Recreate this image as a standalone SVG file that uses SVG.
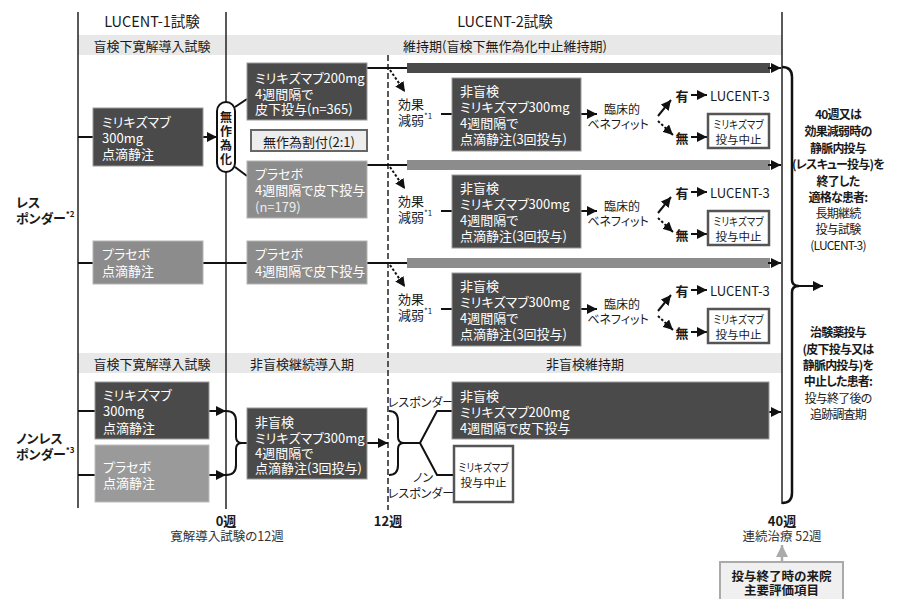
<svg xmlns="http://www.w3.org/2000/svg" width="898" height="599" viewBox="0 0 898 599">
<style>
text{font-family:"Noto Sans CJK JP","Noto Sans",sans-serif;font-size:13px;fill:#1a1a1a;dominant-baseline:central;font-feature-settings:"palt"}
.w{fill:#fff}
.b{font-weight:bold}
.c{text-anchor:middle}
.s{font-size:12px}
.r{font-size:12px;letter-spacing:-0.8px}
.sb{font-size:11.5px}
.dk{fill:#4a4a4a;stroke:#9a9a9a;stroke-width:1}
.gy{fill:#8c8c8c;stroke:#b4b4b4;stroke-width:1}
.gy2{fill:#9a9a9a;stroke:#bdbdbd;stroke-width:1}
.band{fill:#e8e8e8}
.vl{stroke:#222;stroke-width:1.5;fill:none}
.ln{stroke:#111;stroke-width:2;fill:none}
.dt{stroke:#111;stroke-width:2;fill:none;stroke-dasharray:2.5 2}
.ob{fill:#fff;stroke:#555;stroke-width:2.5}
.sup{font-size:8px}
</style>
<defs>
<marker id="ah" viewBox="0 0 10 10" refX="10" refY="5" markerWidth="10" markerHeight="10" markerUnits="userSpaceOnUse" orient="auto"><path d="M0,0 L10,5 L0,10 z" fill="#111"/></marker>
<marker id="ag" viewBox="0 0 10 10" refX="10" refY="5" markerWidth="12" markerHeight="12" markerUnits="userSpaceOnUse" orient="auto"><path d="M0,0 L10,5 L0,10 z" fill="#aaa"/></marker>
</defs>

<g id="frame">
<rect class="band" x="78" y="35" width="704" height="20"/>
<rect class="band" x="78" y="353" width="704" height="20"/>
<line class="vl" x1="78" y1="12" x2="78" y2="508"/>
<line class="vl" x1="226" y1="12" x2="226" y2="509"/>
<line class="vl" x1="782" y1="12" x2="782" y2="504"/>
<line x1="388" y1="55" x2="388" y2="510" stroke="#222" stroke-width="1.5" stroke-dasharray="6 3"/>
<text class="c" x="152" y="20" style="font-size:14.5px">LUCENT-1試験</text>
<text class="c" x="505" y="20" style="font-size:14.5px">LUCENT-2試験</text>
<text class="c" x="152" y="45">盲検下寛解導入試験</text>
<text class="c" x="505" y="45">維持期(盲検下無作為化中止維持期)</text>
<text class="c" x="152" y="363">盲検下寛解導入試験</text>
<text class="c" x="302" y="363">非盲検継続導入期</text>
<text class="c" x="585" y="363">非盲検維持期</text>
<text class="b" x="16" y="201">レス</text>
<text class="b" x="16" y="217">ポンダー<tspan class="sup" dy="-4">*2</tspan></text>
<text class="b" x="16" y="437">ノンレス</text>
<text class="b" x="16" y="453">ポンダー<tspan class="sup" dy="-4">*3</tspan></text>
<text class="c b" x="226" y="520">0週</text>
<text class="c" x="227" y="535" style="font-size:12.5px;fill:#333">寛解導入試験の12週</text>
<text class="c b" x="388" y="520">12週</text>
<text class="c b" x="782" y="520">40週</text>
<text class="c" x="782" y="535" style="font-size:12.5px;fill:#333">連続治療 52週</text>
</g>

<g id="connectors">
<line class="ln" x1="78" y1="137" x2="93" y2="137"/>
<line class="ln" x1="203" y1="137" x2="217" y2="137" marker-end="url(#ah)"/>
<line class="ln" x1="78" y1="263" x2="93" y2="263"/>
<line class="ln" x1="203" y1="263" x2="247" y2="263"/>
<line class="ln" x1="235" y1="107" x2="247" y2="99"/>
<line class="ln" x1="235" y1="167" x2="247" y2="176"/>
<line class="ln" x1="367" y1="68" x2="407" y2="68"/>
<line class="ln" x1="367" y1="165" x2="407" y2="165"/>
<line class="ln" x1="367" y1="263" x2="407" y2="263"/>
<rect x="407" y="63" width="363" height="10" fill="#4a4a4a"/>
<rect x="407" y="160" width="363" height="10" fill="#8c8c8c"/>
<rect x="407" y="258" width="363" height="10" fill="#8c8c8c"/>
<line class="ln" x1="768" y1="68" x2="781" y2="68" marker-end="url(#ah)"/>
<line class="ln" x1="768" y1="165" x2="781" y2="165" marker-end="url(#ah)"/>
<line class="ln" x1="768" y1="263" x2="781" y2="263" marker-end="url(#ah)"/>
<line class="ln" x1="769" y1="412" x2="781" y2="412" marker-end="url(#ah)"/>
<path class="dt" d="M390,70 L405,92" marker-end="url(#ah)"/>
<line class="ln" x1="441" y1="114" x2="452" y2="114"/>
<line class="ln" x1="581" y1="114" x2="597" y2="114" marker-end="url(#ah)"/>
<line class="ln" x1="658" y1="116" x2="671" y2="100" marker-end="url(#ah)"/>
<path class="dt" d="M658,121 L673,135" marker-end="url(#ah)"/>
<line class="ln" x1="691" y1="95" x2="707" y2="95" marker-end="url(#ah)"/>
<line class="ln" x1="691" y1="137" x2="707" y2="137" marker-end="url(#ah)"/>
<path class="dt" d="M390,167 L405,189" marker-end="url(#ah)"/>
<line class="ln" x1="441" y1="211" x2="452" y2="211"/>
<line class="ln" x1="581" y1="211" x2="597" y2="211" marker-end="url(#ah)"/>
<line class="ln" x1="658" y1="213" x2="671" y2="197" marker-end="url(#ah)"/>
<path class="dt" d="M658,218 L673,232" marker-end="url(#ah)"/>
<line class="ln" x1="691" y1="192" x2="707" y2="192" marker-end="url(#ah)"/>
<line class="ln" x1="691" y1="234" x2="707" y2="234" marker-end="url(#ah)"/>
<path class="dt" d="M390,265 L405,287" marker-end="url(#ah)"/>
<line class="ln" x1="441" y1="309" x2="452" y2="309"/>
<line class="ln" x1="581" y1="309" x2="597" y2="309" marker-end="url(#ah)"/>
<line class="ln" x1="658" y1="311" x2="671" y2="295" marker-end="url(#ah)"/>
<path class="dt" d="M658,316 L673,330" marker-end="url(#ah)"/>
<line class="ln" x1="691" y1="290" x2="707" y2="290" marker-end="url(#ah)"/>
<line class="ln" x1="691" y1="332" x2="707" y2="332" marker-end="url(#ah)"/>
<path d="M782,67 Q792,67 792,77 L792,280 Q792,286 799,286 Q792,286 792,292 L792,493 Q792,503 782,503" stroke="#111" stroke-width="2.5" fill="none"/>
<line class="ln" x1="798" y1="286" x2="823" y2="286" marker-end="url(#ah)"/>
<line class="ln" x1="78" y1="411" x2="95" y2="411"/>
<line class="ln" x1="78" y1="475" x2="95" y2="475"/>
<line class="ln" x1="209" y1="411" x2="226" y2="411" marker-end="url(#ah)"/>
<line class="ln" x1="209" y1="475" x2="226" y2="475" marker-end="url(#ah)"/>
<path class="ln" d="M226,411 Q236,411 236,421 L236,437 Q236,443 242,443 Q236,443 236,449 L236,465 Q236,475 226,475"/>
<line class="ln" x1="241" y1="443" x2="247" y2="443"/>
<line class="ln" x1="367" y1="443" x2="388" y2="443" marker-end="url(#ah)"/>
<path class="ln" d="M389,411 Q398,411 398,421 L398,437 Q398,443 404,443 Q398,443 398,449 L398,465 Q398,475 389,475"/>
<path class="ln" d="M403,443 L420,443 L437,411 L452,411 M420,443 L437,475 L454,475"/>
<line x1="782" y1="562" x2="782" y2="545" stroke="#aaa" stroke-width="2.5" marker-end="url(#ag)"/>
</g>

<g id="n_miri300_l1">
<rect class="dk" x="93" y="108" width="110" height="58"/>
<text class="w" x="102" y="121">ミリキズマブ</text>
<text class="w" x="102" y="137">300mg</text>
<text class="w" x="102" y="153">点滴静注</text>
</g>
<g id="n_placebo_l1">
<rect class="gy" x="93" y="241" width="110" height="43"/>
<text class="w" x="102" y="253">プラセボ</text>
<text class="w" x="102" y="270">点滴静注</text>
</g>
<g id="n_random">
<rect x="217" y="102" width="18" height="70" rx="9" fill="#fff" stroke="#111" stroke-width="2"/>
<text class="c b" x="226" y="116" style="font-size:12px">無</text>
<text class="c b" x="226" y="130" style="font-size:12px">作</text>
<text class="c b" x="226" y="144" style="font-size:12px">為</text>
<text class="c b" x="226" y="158" style="font-size:12px">化</text>
</g>
<g id="n_miri200">
<rect class="dk" x="247" y="63" width="120" height="57"/>
<text class="w" x="255" y="77">ミリキズマブ200mg</text>
<text class="w" x="255" y="93">4週間隔で</text>
<text class="w" x="255" y="108">皮下投与(n=365)</text>
</g>
<g id="n_alloc">
<rect x="251" y="130" width="116" height="21" fill="#ededed" stroke="#666" stroke-width="2"/>
<text class="c" x="309" y="141">無作為割付(2:1)</text>
</g>
<g id="n_placebo_sc1">
<rect class="gy" x="247" y="161" width="120" height="57"/>
<text class="w" x="255" y="173">プラセボ</text>
<text class="w" x="255" y="189">4週間隔で皮下投与</text>
<text class="w" x="255" y="206" style="fill:#eee">(n=179)</text>
</g>
<g id="n_placebo_sc2">
<rect class="gy" x="247" y="241" width="120" height="43"/>
<text class="w" x="255" y="253">プラセボ</text>
<text class="w" x="255" y="270">4週間隔で皮下投与</text>
</g>

<g id="n_row1">
<text x="398" y="103">効果</text>
<text x="398" y="119">減弱<tspan class="sup" dy="-4">*1</tspan></text>
<rect class="dk" x="452" y="78" width="129" height="73"/>
<text class="w" x="460" y="90">非盲検</text>
<text class="w" x="460" y="106">ミリキズマブ300mg</text>
<text class="w" x="460" y="122">4週間隔で</text>
<text class="w" x="460" y="138">点滴静注(3回投与)</text>
<text class="c s" x="622" y="108">臨床的</text>
<text class="c s" x="618" y="123">ベネフィット</text>
<text class="b c" x="682" y="95">有</text>
<text x="710" y="95">LUCENT-3</text>
<text class="b c" x="682" y="137">無</text>
<rect class="ob" x="708" y="114" width="61" height="34"/>
<text class="c sb" x="738.5" y="124" textLength="50" lengthAdjust="spacingAndGlyphs">ミリキズマブ</text>
<text class="c sb" x="738.5" y="139">投与中止</text>
</g>
<g id="n_row2">
<text x="398" y="200">効果</text>
<text x="398" y="216">減弱<tspan class="sup" dy="-4">*1</tspan></text>
<rect class="dk" x="452" y="175" width="129" height="73"/>
<text class="w" x="460" y="187">非盲検</text>
<text class="w" x="460" y="203">ミリキズマブ300mg</text>
<text class="w" x="460" y="219">4週間隔で</text>
<text class="w" x="460" y="235">点滴静注(3回投与)</text>
<text class="c s" x="622" y="205">臨床的</text>
<text class="c s" x="618" y="220">ベネフィット</text>
<text class="b c" x="682" y="192">有</text>
<text x="710" y="192">LUCENT-3</text>
<text class="b c" x="682" y="234">無</text>
<rect class="ob" x="708" y="211" width="61" height="34"/>
<text class="c sb" x="738.5" y="221" textLength="50" lengthAdjust="spacingAndGlyphs">ミリキズマブ</text>
<text class="c sb" x="738.5" y="236">投与中止</text>
</g>
<g id="n_row3">
<text x="398" y="298">効果</text>
<text x="398" y="314">減弱<tspan class="sup" dy="-4">*1</tspan></text>
<rect class="dk" x="452" y="273" width="129" height="73"/>
<text class="w" x="460" y="285">非盲検</text>
<text class="w" x="460" y="301">ミリキズマブ300mg</text>
<text class="w" x="460" y="317">4週間隔で</text>
<text class="w" x="460" y="333">点滴静注(3回投与)</text>
<text class="c s" x="622" y="303">臨床的</text>
<text class="c s" x="618" y="318">ベネフィット</text>
<text class="b c" x="682" y="290">有</text>
<text x="710" y="290">LUCENT-3</text>
<text class="b c" x="682" y="332">無</text>
<rect class="ob" x="708" y="309" width="61" height="34"/>
<text class="c sb" x="738.5" y="319" textLength="50" lengthAdjust="spacingAndGlyphs">ミリキズマブ</text>
<text class="c sb" x="738.5" y="334">投与中止</text>
</g>

<g id="n_outcome">
<text class="c b r" x="838" y="113">40週又は</text>
<text class="c b r" x="838" y="130">効果減弱時の</text>
<text class="c b r" x="838" y="147">静脈内投与</text>
<text class="c b r" x="838" y="163">(レスキュー投与)を</text>
<text class="c b r" x="838" y="180">終了した</text>
<text class="c b r" x="838" y="196">適格な患者:</text>
<text class="c r" x="838" y="212">長期継続</text>
<text class="c r" x="838" y="228">投与試験</text>
<text class="c r" x="838" y="244">(LUCENT-3)</text>
<text class="c b r" x="838" y="331">治験薬投与</text>
<text class="c b r" x="838" y="348">(皮下投与又は</text>
<text class="c b r" x="838" y="364">静脈内投与)を</text>
<text class="c b r" x="838" y="380">中止した患者:</text>
<text class="c r" x="838" y="397">投与終了後の</text>
<text class="c r" x="838" y="413">追跡調査期</text>
</g>

<g id="n_miri300_l1nr">
<rect class="dk" x="95" y="382" width="114" height="57"/>
<text class="w" x="103" y="394">ミリキズマブ</text>
<text class="w" x="103" y="410">300mg</text>
<text class="w" x="103" y="427">点滴静注</text>
</g>
<g id="n_placebo_l1nr">
<rect class="gy2" x="95" y="445" width="114" height="57"/>
<text class="w" x="103" y="466">プラセボ</text>
<text class="w" x="103" y="482">点滴静注</text>
</g>
<g id="n_ext300">
<rect class="dk" x="247" y="408" width="120" height="71"/>
<text class="w" x="255" y="421">非盲検</text>
<text class="w" x="255" y="437">ミリキズマブ300mg</text>
<text class="w" x="255" y="452">4週間隔で</text>
<text class="w" x="255" y="467">点滴静注(3回投与)</text>
</g>
<g id="n_resp">
<text class="c s" x="421" y="401">レスポンダー</text>
<text class="c s" x="423" y="476">ノン</text>
<text class="c s" x="421" y="492">レスポンダー</text>
</g>
<g id="n_ext200">
<rect class="dk" x="452" y="382" width="317" height="57"/>
<text class="w" x="460" y="395">非盲検</text>
<text class="w" x="460" y="411">ミリキズマブ200mg</text>
<text class="w" x="460" y="427">4週間隔で皮下投与</text>
</g>
<g id="n_stop_nr">
<rect class="ob" x="454" y="446" width="59" height="56"/>
<text class="c sb" x="483.5" y="467" textLength="50" lengthAdjust="spacingAndGlyphs">ミリキズマブ</text>
<text class="c sb" x="483.5" y="482">投与中止</text>
</g>
<g id="n_endpoint">
<rect x="720" y="562" width="123" height="45" fill="#f0f0f0" stroke="#aaa" stroke-width="2"/>
<text class="c b" x="781.5" y="575" style="font-size:12.5px">投与終了時の来院</text>
<text class="c b" x="781.5" y="589" style="font-size:12.5px">主要評価項目</text>
</g>
</svg>
